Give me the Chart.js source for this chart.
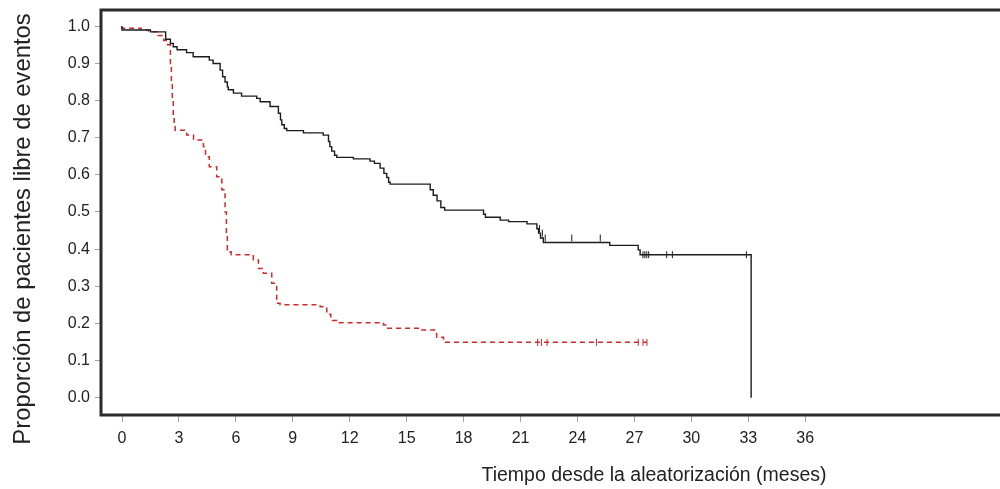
<!DOCTYPE html>
<html>
<head>
<meta charset="utf-8">
<script src="https://cdn.jsdelivr.net/npm/chart.js@4/dist/chart.umd.min.js"></script>
<style>
  html, body { margin: 0; padding: 0; background: #ffffff; }
  #wrap { width: 1000px; height: 489px; position: relative; }
</style>
</head>
<body>
<div id="wrap"><canvas id="km"></canvas></div>
<script>
// Axis ticks
const monthTicks = [0, 3, 6, 9, 12, 15, 18, 21, 24, 27, 30, 33, 36];
const probTicks = [0.0, 0.1, 0.2, 0.3, 0.4, 0.5, 0.6, 0.7, 0.8, 0.9, 1.0];

// Experimental arm (solid black): event times (months) and survival after each event
const expTime = [0, 1.5, 2.3, 2.55, 2.7, 2.9, 3.4, 3.75, 4.6, 4.8, 5.17, 5.3, 5.43, 5.55, 5.6, 5.87,
  6.3, 7.1, 7.28, 7.8, 8.24, 8.35, 8.42, 8.55, 8.68, 9.56, 10.6, 10.88, 10.95, 11.05, 11.2, 11.32,
  12.19, 13.07, 13.3, 13.6, 13.8, 13.95, 14.05, 14.13, 16.24, 16.4, 16.6, 16.8, 17.0,
  19.05, 19.15, 19.93, 20.37, 21.34, 21.86, 21.95, 22.05, 22.2, 25.7, 27.2, 27.3, 27.4, 33.15, 33.15];
const expSurv = [1.0, 0.99, 0.985, 0.965, 0.954, 0.945, 0.937, 0.929, 0.918, 0.909, 0.9, 0.882, 0.864, 0.85, 0.837, 0.829,
  0.82, 0.812, 0.806, 0.797, 0.784, 0.766, 0.748, 0.735, 0.725, 0.719, 0.713, 0.707, 0.69, 0.676, 0.664, 0.653,
  0.647, 0.643, 0.637, 0.631, 0.618, 0.604, 0.593, 0.58, 0.575, 0.56, 0.545, 0.53, 0.512,
  0.505, 0.494, 0.486, 0.478, 0.474, 0.468, 0.455, 0.443, 0.43, 0.418, 0.41, 0.398, 0.385, 0.385, 0.0];

// Control arm (dashed red)
const ctlTime = [0, 1.0, 1.4, 1.9, 2.2, 2.4, 2.55, 2.6, 2.65, 2.7, 2.75, 2.8, 3.41, 3.77, 4.29, 4.4, 4.6, 4.99, 5.26,
  5.43, 5.5, 5.55, 5.69, 5.75, 6.92, 7.19, 7.45, 7.89, 8.15, 8.33, 10.44, 10.79, 11.0, 11.32,
  13.78, 13.96, 15.7, 16.58, 16.94, 19.6, 27.66];
const ctlSurv = [1.0, 0.995, 0.99, 0.985, 0.975, 0.962, 0.95, 0.9, 0.85, 0.8, 0.76, 0.73, 0.72, 0.707, 0.694, 0.676, 0.649, 0.622, 0.595,
  0.56, 0.5, 0.443, 0.398, 0.393, 0.385, 0.371, 0.348, 0.335, 0.308, 0.254, 0.25, 0.245, 0.225, 0.208,
  0.202, 0.196, 0.187, 0.182, 0.163, 0.149, 0.149];

// Censored observations
const expCensorTime = [22.0, 22.15, 22.3, 23.7, 25.2, 27.45, 27.55, 27.65, 27.75, 28.7, 29.0, 32.9];
const expCensorSurv = [0.455, 0.443, 0.43, 0.43, 0.43, 0.385, 0.385, 0.385, 0.385, 0.385, 0.385, 0.385];
const ctlCensorTime = [21.9, 22.1, 22.4, 25.0, 27.2, 27.45, 27.66];
const ctlCensorSurv = [0.149, 0.149, 0.149, 0.149, 0.149, 0.149, 0.149];

const xTitle = 'Tiempo desde la aleatorización (meses)';
const yTitle = 'Proporción de pacientes libre de eventos';

const toPoints = (xs, ys) => xs.map((x, i) => ({ x: x, y: ys[i] }));

const BLACK = '#1c1c1c';
const RED = '#d02828';
const tickFont = { family: "'Liberation Sans', Arial, sans-serif", size: 16 };

// Frame (top, left, bottom) and the two axis titles
const framePlugin = {
  id: 'frameAndTitles',
  afterDraw(chart) {
    const { ctx, chartArea } = chart;
    ctx.save();
    ctx.strokeStyle = '#2b2b2b';
    ctx.lineWidth = 3;
    ctx.beginPath();
    ctx.moveTo(chart.width, chartArea.top);
    ctx.lineTo(chartArea.left, chartArea.top);
    ctx.lineTo(chartArea.left, chartArea.bottom);
    ctx.lineTo(chart.width, chartArea.bottom);
    ctx.stroke();

    ctx.fillStyle = '#222222';
    ctx.font = "19.5px 'Liberation Sans', Arial, sans-serif";
    ctx.textAlign = 'center';
    ctx.textBaseline = 'alphabetic';
    ctx.fillText(xTitle, 654, 481);

    ctx.translate(30, 229);
    ctx.rotate(-Math.PI / 2);
    ctx.font = "23.8px 'Liberation Sans', Arial, sans-serif";
    ctx.fillText(yTitle, 0, 0);
    ctx.restore();
  }
};

new Chart(document.getElementById('km'), {
  type: 'line',
  data: {
    datasets: [
      {
        data: toPoints(expTime, expSurv),
        borderColor: BLACK, borderWidth: 1.4, stepped: 'after',
        pointRadius: 0, fill: false
      },
      {
        data: toPoints(ctlTime, ctlSurv),
        borderColor: RED, borderWidth: 1.5, borderDash: [5, 4], stepped: 'after',
        pointRadius: 0, fill: false
      },
      {
        data: toPoints(expCensorTime, expCensorSurv),
        showLine: false, pointStyle: 'line', rotation: 90, pointRadius: 3.5,
        borderColor: BLACK, borderWidth: 1, backgroundColor: BLACK
      },
      {
        data: toPoints(ctlCensorTime, ctlCensorSurv),
        showLine: false, pointStyle: 'line', rotation: 90, pointRadius: 3.5,
        borderColor: RED, borderWidth: 1, backgroundColor: RED
      }
    ]
  },
  options: {
    responsive: true,
    maintainAspectRatio: false,
    animation: false,
    devicePixelRatio: 1,
    layout: { padding: { top: 10, right: 0, bottom: 0, left: 0 } },
    plugins: { legend: { display: false }, tooltip: { enabled: false }, title: { display: false } },
    scales: {
      x: {
        type: 'linear',
        min: -1.107, max: 46.0,
        afterFit(scale) {
          scale.height = 74;
          scale.paddingLeft = 0;
          scale.paddingRight = 0;
        },
        afterBuildTicks(scale) { scale.ticks = monthTicks.map(v => ({ value: v })); },
        border: { display: false },
        grid: { drawOnChartArea: false, drawTicks: true, tickLength: 7, color: '#a0a0a0', lineWidth: 1 },
        ticks: {
          autoSkip: false, maxRotation: 0, padding: 7, color: '#222222', font: tickFont,
          callback: (v) => String(v)
        }
      },
      y: {
        type: 'linear',
        min: -0.0466, max: 1.0439,
        afterFit(scale) {
          scale.width = 101;
          scale.paddingTop = 0;
          scale.paddingBottom = 0;
        },
        afterBuildTicks(scale) { scale.ticks = probTicks.map(v => ({ value: v })); },
        border: { display: false },
        grid: { drawOnChartArea: false, drawTicks: true, tickLength: 6, color: '#a0a0a0', lineWidth: 1 },
        ticks: {
          padding: 5, color: '#222222', font: tickFont,
          callback: (v) => Number(v).toFixed(1)
        }
      }
    }
  },
  plugins: [framePlugin]
});
</script>
</body>
</html>
